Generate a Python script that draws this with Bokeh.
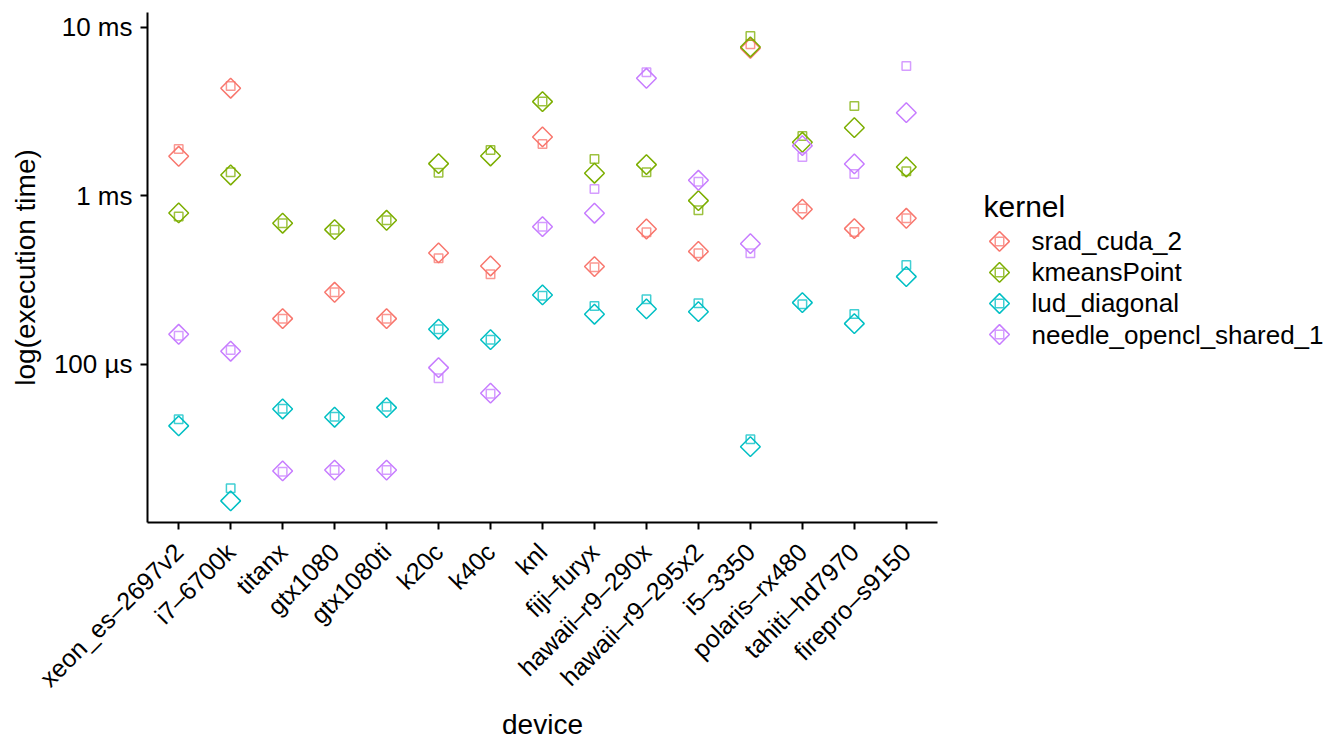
import math
from bokeh.plotting import figure
from bokeh.layouts import row
from bokeh.models import (FactorRange, Range1d, FixedTicker, CustomJSTickFormatter,
                          ColumnDataSource)
from bokeh.core.properties import value
from bokeh.embed import file_html
from bokeh.resources import INLINE

devices = ["xeon_es–2697v2", "i7–6700k", "titanx", "gtx1080", "gtx1080ti", "k20c", "k40c",
           "knl", "fiji–furyx", "hawaii–r9–290x", "hawaii–r9–295x2", "i5–3350",
           "polaris–rx480", "tahiti–hd7970", "firepro–s9150"]
kernels = ["srad_cuda_2", "kmeansPoint", "lud_diagonal", "needle_opencl_shared_1"]
colors = ["#F8766D", "#7CAE00", "#00BFC4", "#C77CFF"]

# execution times in ms (diamonds = measured, squares = predicted)
srad_measured = [1.72, 4.36, 0.187, 0.268, 0.187, 0.459, 0.384, 2.24, 0.381, 0.637, 0.4685, 7.53, 0.834, 0.640, 0.737]
srad_predicted = [1.90, 4.50, 0.187, 0.268, 0.187, 0.427, 0.343, 2.035, 0.377, 0.609, 0.457, 7.95, 0.841, 0.612, 0.737]
kmeans_measured = [0.793, 1.332, 0.689, 0.631, 0.717, 1.555, 1.727, 3.63, 1.364, 1.534, 0.938, 7.66, 2.083, 2.543, 1.486]
kmeans_predicted = [0.754, 1.382, 0.689, 0.631, 0.717, 1.375, 1.875, 3.63, 1.658, 1.382, 0.823, 8.90, 2.27, 3.42, 1.402]
lud_measured = [0.0432, 0.01549, 0.0544, 0.0486, 0.0554, 0.1618, 0.1403, 0.2585, 0.1986, 0.2135, 0.2057, 0.0325, 0.2327, 0.1746, 0.332]
lud_predicted = [0.0473, 0.01842, 0.0546, 0.0490, 0.0560, 0.1618, 0.1403, 0.2560, 0.2224, 0.2438, 0.2308, 0.0360, 0.2277, 0.1994, 0.3895]
needle_measured = [0.151, 0.1198, 0.02333, 0.0236, 0.0236, 0.0957, 0.0675, 0.657, 0.790, 4.995, 1.239, 0.521, 1.988, 1.549, 3.12]
needle_predicted = [0.148, 0.1219, 0.0231, 0.0236, 0.0236, 0.0828, 0.0669, 0.657, 1.10, 5.42, 1.216, 0.457, 1.704, 1.351, 5.91]

measured = [srad_measured, kmeans_measured, lud_measured, needle_measured]
predicted = [srad_predicted, kmeans_predicted, lud_predicted, needle_predicted]

y_ticks = [0.1, 1, 10]

FONT = "Liberation Sans"
DIAMOND_SIZE = 14
SQUARE_SIZE = 8.5
LW = 1.5
SQ_ALPHA = 0.75

FRAME_TOP, FRAME_H = 12, 510

p = figure(x_range=FactorRange(*devices, range_padding=0.1, range_padding_units="absolute"),
           y_axis_type="log", y_range=Range1d(0.01153, 12.27),
           frame_width=790, frame_height=FRAME_H,
           min_border_left=147, min_border_right=10, min_border_top=FRAME_TOP, min_border_bottom=216,
           output_backend="svg", toolbar_location=None)

p.outline_line_color = None
p.xgrid.visible = False
p.ygrid.visible = False

for k, c, meas, pred in zip(kernels, colors, measured, predicted):
    src = ColumnDataSource(dict(device=devices, measured=meas, predicted=pred))
    p.scatter("device", "predicted", source=src, marker="square", size=SQUARE_SIZE,
              fill_color=None, line_color=c, line_width=LW, line_alpha=SQ_ALPHA)
    p.scatter("device", "measured", source=src, marker="square", angle=math.pi / 4,
              size=DIAMOND_SIZE, fill_color=None, line_color=c, line_width=LW)

# axes
for ax in (p.xaxis[0], p.yaxis[0]):
    ax.axis_line_color = "black"
    ax.axis_line_width = 2
    ax.major_tick_line_color = "black"
    ax.major_tick_line_width = 2
    ax.major_tick_out = 7
    ax.major_tick_in = 0
    ax.minor_tick_line_color = None
    ax.major_label_text_font = FONT
    ax.major_label_text_color = "black"
    ax.axis_label_text_font = FONT
    ax.axis_label_text_font_size = "28px"
    ax.axis_label_text_font_style = "normal"
    ax.axis_label_text_color = "black"

p.yaxis.ticker = FixedTicker(ticks=y_ticks)
p.yaxis.formatter = CustomJSTickFormatter(code="""
if (tick >= 1) { return Math.round(tick) + " ms"; }
return Math.round(tick * 1000) + " \u00b5s";
""")
p.yaxis.axis_label = "log(execution time)"
p.yaxis.major_label_text_font_size = "26px"
p.yaxis.major_label_standoff = 8
p.yaxis.axis_label_standoff = 10

p.xaxis.axis_label = "device"
p.xaxis.major_label_text_font_size = "25px"
p.xaxis.major_label_orientation = math.pi / 4
p.xaxis.major_label_standoff = 18
p.xaxis.axis_label_standoff = 4

# ---- legend panel: separate figure; its frame is aligned with the main frame,
# so its y range is expressed in page pixels (downwards) over the frame span ----
LEG_W, LEG_H = 378, 738
leg = figure(width=LEG_W, height=LEG_H, x_range=Range1d(0, LEG_W),
             y_range=Range1d(FRAME_TOP + FRAME_H, FRAME_TOP),
             min_border=0, output_backend="svg", toolbar_location=None,
             x_axis_location=None, y_axis_location=None)
leg.outline_line_color = None
leg.xgrid.visible = False
leg.ygrid.visible = False

item_y0, item_step = 242.7, 31.3
glyph_x, label_x = 52, 84
item_y = [item_y0 + i * item_step for i in range(len(kernels))]
lsrc = ColumnDataSource(dict(x=[glyph_x] * len(kernels), y=item_y,
                             lx=[label_x] * len(kernels), color=colors, label=kernels))
leg.scatter("x", "y", source=lsrc, marker="square", angle=math.pi / 4, size=DIAMOND_SIZE,
            fill_color=None, line_color="color", line_width=LW)
leg.scatter("x", "y", source=lsrc, marker="square", size=SQUARE_SIZE,
            fill_color=None, line_color="color", line_width=LW, line_alpha=SQ_ALPHA)
leg.text("lx", "y", text="label", source=lsrc, text_font=value(FONT), text_font_size="26px",
         text_color="black", text_baseline="middle", text_align="left")
leg.text(x=[36], y=[208], text=["kernel"], text_font=value(FONT), text_font_size="30px",
         text_color="black", text_baseline="alphabetic", text_align="left")

layout = row(p, leg)
open("out.html", "w").write(file_html(layout, INLINE))
